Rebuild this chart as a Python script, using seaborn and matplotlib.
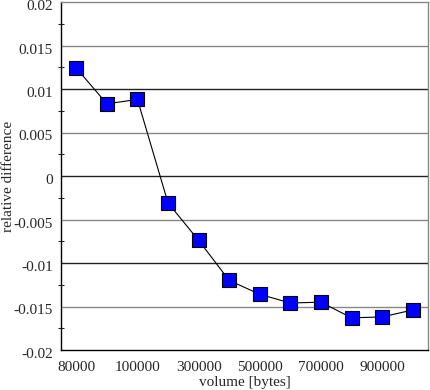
import numpy as np
import pandas as pd
import seaborn as sns
import matplotlib.pyplot as plt
import matplotlib.transforms as mtransforms

# volume in bytes and measured relative difference
volumes = [80000, 90000, 100000, 200000, 300000, 400000, 500000,
           600000, 700000, 800000, 900000, 1000000]
rel_diff = [0.0124, 0.0083, 0.0088, -0.0031, -0.0074, -0.0120, -0.0136,
            -0.0146, -0.0145, -0.0163, -0.0162, -0.0154]
y_ticks = [-0.02, -0.015, -0.01, -0.005, 0, 0.005, 0.01, 0.015, 0.02]
y_labels = ["-0.02", "-0.015", "-0.01", "-0.005", "0", "0.005", "0.01", "0.015", "0.02"]

df = pd.DataFrame({"pos": np.arange(len(volumes)), "volume": volumes, "diff": rel_diff})

sns.set_style("white")
plt.rcParams['font.family'] = ['Liberation Serif', 'DejaVu Serif']

fig = plt.figure(figsize=(4.3, 3.9), dpi=100)
ax = fig.add_axes([61/430, 40/390, 367/430, 348/390])

# horizontal grid lines
for i, t in enumerate(y_ticks[1:-1]):
    ax.axhline(t, color="#222222" if i % 2 == 1 else "#888888", lw=1.0, zorder=1)

sns.lineplot(data=df, x="pos", y="diff", ax=ax, color="black", lw=0.8,
             marker="s", markersize=10, markerfacecolor="#0000ff",
             markeredgecolor="black", markeredgewidth=0.8, zorder=3)

ax.set_xlim(-0.5, len(volumes) - 0.5)
ax.set_ylim(-0.02, 0.02)
ax.set_xticks(df["pos"])
ax.set_xticklabels([str(v) if i % 2 == 0 else "" for i, v in enumerate(volumes)])
ax.set_yticks(y_ticks)
ax.set_yticklabels(y_labels)
ax.set_yticks(np.arange(-0.0175, 0.02, 0.005), minor=True)

ax.tick_params(axis="x", direction="in", length=6, width=0.8, labelsize=11, pad=8)
ax.tick_params(axis="y", which="major", direction="inout", length=8, width=0.8, labelsize=11, pad=2)
ax.tick_params(axis="y", which="minor", direction="inout", length=5, width=0.8, left=True)

# y tick labels sit a little below their ticks in the original
shift = mtransforms.ScaledTranslation(0, -3/100, fig.dpi_scale_trans)
for lab in ax.get_yticklabels():
    lab.set_transform(lab.get_transform() + shift)

ax.set_xlabel("volume [bytes]", fontsize=11)
ax.set_ylabel("relative difference", fontsize=11)
ax.xaxis.set_label_coords(0.5, -0.075)
ax.yaxis.set_label_coords(-0.125, 0.5)

for s in ["left", "bottom"]:
    ax.spines[s].set_color("black")
    ax.spines[s].set_linewidth(1.0)
for s in ["right", "top"]:
    ax.spines[s].set_color("#888888")
    ax.spines[s].set_linewidth(1.0)

fig.savefig("out.png", dpi=100)
